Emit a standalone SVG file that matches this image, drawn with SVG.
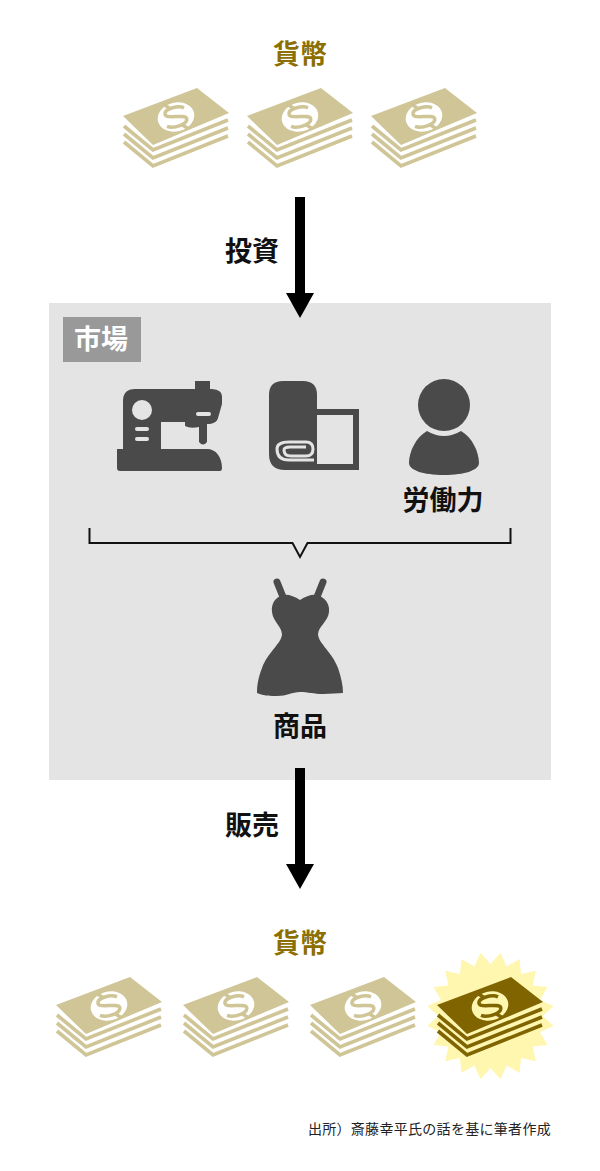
<svg xmlns="http://www.w3.org/2000/svg" width="600" height="1171" viewBox="0 0 600 1171">
<style>
text{font-family:"Noto Sans CJK JP","Liberation Sans",sans-serif;font-weight:700;text-anchor:middle}
.lbl{font-size:27px;fill:#111}
.gold{font-size:27px;fill:#8c6f00}
.tan{color:#cfc596;--hole:#fff}
.deep{color:#7f6400;--hole:#fff6b0}
.dk{fill:#4a4a4a}
.hole{fill:#e4e4e4}
</style>
<defs>
<g id="money">
<polygon points="0,0 74,-28 106,-3 30,29" fill="currentColor"/>
<g fill="none" stroke="currentColor" stroke-width="3.600" stroke-linejoin="miter">
<polyline points="1,10 30,34 105,4"/>
<polyline points="1,18 30,42 105,12"/>
<polyline points="1,26 30,50 105,20"/>
</g>
<g transform="translate(53,1) rotate(-14)">
<ellipse rx="18.500" ry="14.500" style="fill:var(--hole)"/>
<path d="M10,-7 C5,-11 -10,-11 -10,-5 C-10,0 10,-1 10,4 C10,10 -5,11 -11,7 M-8,-14 L-3,-9 M4,9 L9,14" fill="none" stroke="currentColor" stroke-width="3.500"/>
</g>
</g>
</defs>
<rect width="600" height="1171" fill="#fff"/>
<g id="money-top">
<text class="gold" x="300" y="64">貨幣</text>
<use href="#money" class="tan" x="123" y="116"/>
<use href="#money" class="tan" x="247" y="116"/>
<use href="#money" class="tan" x="371" y="116"/>
</g>
<g id="market">
<rect x="49" y="303" width="502" height="477" fill="#e4e4e4"/>
<rect x="63" y="317" width="78" height="45" fill="#999"/>
<text x="101" y="349" font-size="27" style="fill:#fff">市場</text>
</g>
<g id="sewing-machine">
<path class="dk" d="M117,449 V468 Q117,471 120,471 H220 Q222,471 222,468 C222,457 216,449 207,449 H161 V422 H185 V426 Q190,429 199,427 V442 Q203,447 207,442 V424 C213,424 217,422 218,418 L222,404 V396 Q222,390 212,389 H210 V381 H195 V389 H135 Q123,389 123,401 V449 Z"/>
<circle class="hole" cx="142" cy="410" r="10"/>
<rect class="hole" x="135" y="427" width="14" height="4" rx="2"/>
<rect class="hole" x="135" y="437" width="14" height="4" rx="2"/>
<rect class="hole" x="196" y="412" width="15" height="4" rx="2"/>
</g>
<g id="fabric">
<path class="dk" d="M283,381 H303 Q317,381 317,395 V409 H359 V470 H285 Q269,470 269,454 V395 Q269,381 283,381 Z"/>
<rect class="hole" x="317" y="415" width="36" height="49"/>
<path d="M314,460 H289 Q277,460 277,449 Q277,442 289,442 H306 Q313,442 313,449 Q313,456 306,456 H291 Q284,456 284,450 Q284,447 290,447 H306" fill="none" stroke="#e4e4e4" stroke-width="3"/>
</g>
<g id="labor">
<circle class="dk" cx="444" cy="405" r="26"/>
<path class="dk" d="M427,431 Q444,441 461,431 C472,437 479,452 479,463 C479,470 465,475 444,475 C423,475 409,470 409,463 C409,452 416,437 427,431 Z"/>
<text class="lbl" x="443" y="510">労働力</text>
</g>
<g id="connectors">
<path d="M300,197 V293" stroke="#000" stroke-width="10" fill="none"/>
<polygon points="286,293 314,293 300,318" fill="#000"/>
<path d="M300,768 V864" stroke="#000" stroke-width="10" fill="none"/>
<polygon points="286,864 314,864 300,889" fill="#000"/>
<path d="M89.500,528 V543 H292.500 L300,557 L307.500,543 H510.500 V528" fill="none" stroke="#111" stroke-width="2"/>
</g>
<g id="invest"><text class="lbl" x="252" y="261">投資</text></g>
<g id="dress">
<path d="M277,582 L283,597 M323,582 L317,597" stroke="#4a4a4a" stroke-width="7" stroke-linecap="round" fill="none"/>
<path class="dk" d="M300,600 C294,596 288,594 283,595 C275,597 271,604 272,612 C273,622 282,626 282,635 C280,645 268,652 262,668 C258,678 257,686 257,693 C264,696 271,696 277,696 C287,696 292,692 300,692 C308,692 314,694 323,694 C331,694 337,693 343,693 C343,685 341,677 338,668 C332,652 320,645 318,635 C318,626 328,622 329,612 C330,604 325,597 317,595 C312,594 306,596 300,600 Z"/>
<text class="lbl" x="300" y="736">商品</text>
</g>
<g id="sale"><text class="lbl" x="252" y="835">販売</text></g>
<g id="money-bottom">
<text class="gold" x="300" y="953">貨幣</text>
<use href="#money" class="tan" x="56" y="1005"/>
<use href="#money" class="tan" x="183" y="1005"/>
<use href="#money" class="tan" x="310" y="1005"/>
<polygon transform="translate(490.500,1016)" fill="#fff6b0" points="0,-52 10,-63.200 16.100,-49.500 29.100,-57 30.600,-42.100 45.300,-45.300 42.100,-30.600 57,-29.100 49.500,-16.100 63.200,-10 52,0 63.200,10 49.500,16.100 57,29.100 42.100,30.600 45.300,45.300 30.600,42.100 29.100,57 16.100,49.500 10,63.200 0,52 -10,63.200 -16.100,49.500 -29.100,57 -30.600,42.100 -45.300,45.300 -42.100,30.600 -57,29.100 -49.500,16.100 -63.200,10 -52,0 -63.200,-10 -49.500,-16.100 -57,-29.100 -42.100,-30.600 -45.300,-45.300 -30.600,-42.100 -29.100,-57 -16.100,-49.500 -10,-63.200"/>
<use href="#money" class="deep" x="437" y="1005"/>
</g>
<g id="source"><text x="551" y="1134" font-size="14" letter-spacing="0.3" style="text-anchor:end;font-weight:400;fill:#222">出所）斎藤幸平氏の話を基に筆者作成</text></g>
</svg>
